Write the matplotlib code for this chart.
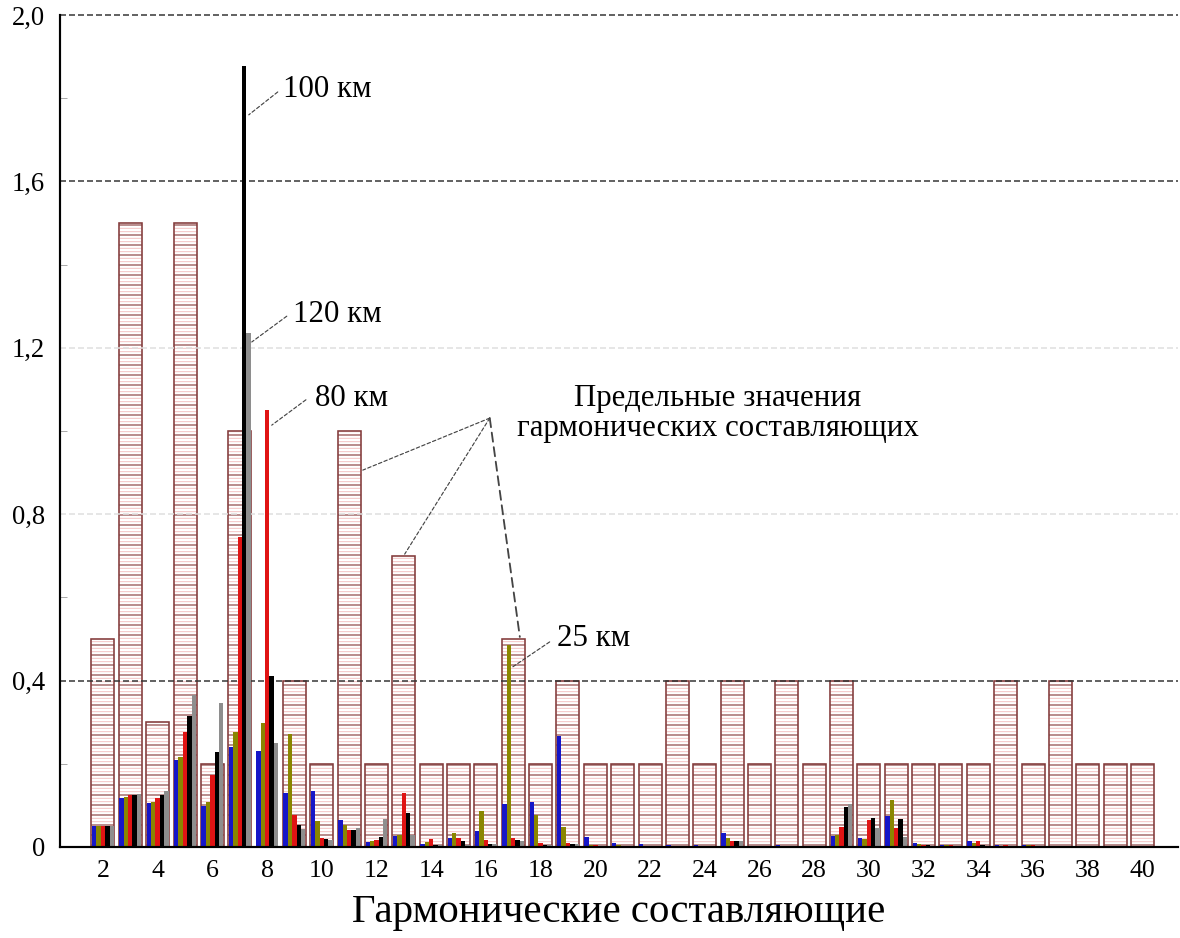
import numpy as np
import matplotlib
matplotlib.use('Agg')
import matplotlib.pyplot as plt
from matplotlib.ticker import MultipleLocator, FuncFormatter

plt.rcParams['font.family'] = ['Liberation Serif', 'DejaVu Serif']
plt.rcParams['hatch.linewidth'] = 0.6

# harmonic orders and limit values (no limit box drawn at 8)
harmonics = np.arange(2, 41)
limits = [0.5, 1.5, 0.3, 1.5, 0.2, 1.0, np.nan, 0.4, 0.2, 1.0,
          0.2, 0.7, 0.2, 0.2, 0.2, 0.5, 0.2, 0.4, 0.2, 0.2,
          0.2, 0.4, 0.2, 0.4, 0.2, 0.4, 0.2, 0.4, 0.2, 0.2,
          0.2, 0.2, 0.2, 0.4, 0.2, 0.4, 0.2, 0.2, 0.2]

# measured harmonics for different line lengths
line_blue = [0.05, 0.118, 0.105, 0.21, 0.099, 0.24, 0.23, 0.13, 0.135, 0.066,
             0.012, 0.026, 0.008, 0.022, 0.038, 0.104, 0.107, 0.267, 0.024, 0.01,
             0.008, 0.004, 0.006, 0.034, 0.003, 0.004, 0.003, 0.026, 0.022, 0.075,
             0.01, 0.005, 0.014, 0.005, 0.006, 0.002, 0.002, 0.002, 0.002]
line_25 = [0.05, 0.12, 0.107, 0.217, 0.108, 0.276, 0.297, 0.272, 0.063, 0.052,
           0.014, 0.03, 0.012, 0.034, 0.086, 0.485, 0.076, 0.048, 0.006, 0.004,
           0.003, 0.003, 0.003, 0.022, 0.003, 0.003, 0.003, 0.03, 0.02, 0.112,
           0.008, 0.004, 0.01, 0.003, 0.005, 0.002, 0.002, 0.002, 0.002]
line_80 = [0.05, 0.125, 0.118, 0.277, 0.173, 0.745, 1.05, 0.077, 0.022, 0.04,
           0.016, 0.13, 0.02, 0.022, 0.016, 0.022, 0.01, 0.01, 0.004, 0.003,
           0.003, 0.003, 0.003, 0.014, 0.003, 0.003, 0.003, 0.048, 0.066, 0.046,
           0.006, 0.006, 0.014, 0.005, 0.006, 0.002, 0.002, 0.002, 0.002]
line_100 = [0.05, 0.125, 0.125, 0.315, 0.228, 1.877, 0.41, 0.053, 0.02, 0.042,
            0.023, 0.081, 0.006, 0.014, 0.008, 0.016, 0.006, 0.008, 0.003, 0.003,
            0.002, 0.002, 0.002, 0.014, 0.002, 0.002, 0.002, 0.095, 0.07, 0.067,
            0.005, 0.003, 0.004, 0.002, 0.002, 0.002, 0.002, 0.002, 0.002]
line_120 = [0.05, 0.128, 0.135, 0.365, 0.346, 1.235, 0.25, 0.043, 0.017, 0.045,
            0.067, 0.03, 0.004, 0.006, 0.008, 0.014, 0.006, 0.008, 0.003, 0.003,
            0.002, 0.002, 0.002, 0.014, 0.002, 0.002, 0.002, 0.104, 0.046, 0.024,
            0.003, 0.002, 0.003, 0.002, 0.002, 0.002, 0.002, 0.002, 0.002]

series = [(line_blue, '#1616c8'), (line_25, '#8a8600'), (line_80, '#e01414'),
          (line_100, '#000000'), (line_120, '#8e8e8e')]

fig = plt.figure(figsize=(1180 / 120, 938 / 120), dpi=120)
ax = fig.add_axes([60 / 1180, 1 - 847 / 938, 1118 / 1180, 832 / 938])

# limit boxes: light pink hatch + darker brown hatch on top
ax.bar(harmonics, limits, width=0.84, color='white', edgecolor='#f3c4c4',
       hatch='------', linewidth=1.0, zorder=1)
ax.bar(harmonics, limits, width=0.84, color='none', edgecolor='#7e3c3c',
       hatch='--', linewidth=0.9, zorder=1.1)

bw = 0.16
for k, (vals, col) in enumerate(series):
    ax.bar(harmonics + (k - 2) * bw, vals, width=bw, color=col,
           edgecolor='none', zorder=2)

ax.set_xlim(0.43, 41.3)
ax.set_ylim(0, 2.0)
ax.set_xticks(np.arange(2, 41, 2))
ax.yaxis.set_major_locator(MultipleLocator(0.4))
ax.yaxis.set_minor_locator(MultipleLocator(0.2))
ax.yaxis.set_major_formatter(FuncFormatter(
    lambda v, p: '0' if abs(v) < 1e-9 else f'{v:.1f}'.replace('.', ',')))
ax.tick_params(axis='x', length=0, labelsize=15.5, pad=8)
ax.tick_params(axis='y', which='major', length=0, labelsize=16, pad=9)
ax.tick_params(axis='y', which='minor', direction='in', length=4,
               color='#aaaaaa')
ax.spines['top'].set_visible(False)
ax.spines['right'].set_visible(False)
ax.spines['left'].set_linewidth(1.3)
ax.spines['bottom'].set_linewidth(1.3)

# dashed grid; the 0.8 and 1.2 lines are very faint in the original
for yv in ax.get_yticks():
    if yv <= 0 or yv > 2.0001:
        continue
    faint = abs(yv - 0.8) < 1e-6 or abs(yv - 1.2) < 1e-6
    ax.axhline(yv, color='#dedede' if faint else '#333333', linewidth=0.9,
               linestyle=(0, (4, 2)), zorder=1.5, clip_on=False)

ax.set_xlabel('Гармонические составляющие', fontsize=24.5, labelpad=7)

lead = dict(arrowstyle='-', color='#444444', linewidth=0.7,
            linestyle=(0, (3, 2)), shrinkA=0, shrinkB=0)

labels = [('100 км', (7.33, 1.76), (8.39, 1.815), (8.58, 1.822)),
          ('120 км', (7.44, 1.214), (8.72, 1.276), (8.94, 1.281)),
          ('80 км', (8.17, 1.014), (9.42, 1.075), (9.75, 1.077)),
          ('25 км', (16.98, 0.433), (18.33, 0.493), (18.59, 0.50))]
for txt, p0, p1, tp in labels:
    ax.annotate('', xy=p0, xytext=p1, arrowprops=lead)
    ax.text(tp[0], tp[1], txt, ha='left', va='center', fontsize=18.5)

ax.text(24.47, 1.043, 'Предельные значения\nгармонических составляющих',
        ha='center', va='center', multialignment='center', fontsize=18.5,
        linespacing=1.05)
hub = (16.14, 1.031)
ax.annotate('', xy=(11.5, 0.906), xytext=hub, arrowprops=lead)
ax.annotate('', xy=(13.03, 0.704), xytext=hub, arrowprops=lead)
ax.annotate('', xy=(17.24, 0.505), xytext=hub,
            arrowprops=dict(lead, linewidth=1.1, linestyle=(0, (5, 3))))

fig.savefig('out.png', dpi=120)
